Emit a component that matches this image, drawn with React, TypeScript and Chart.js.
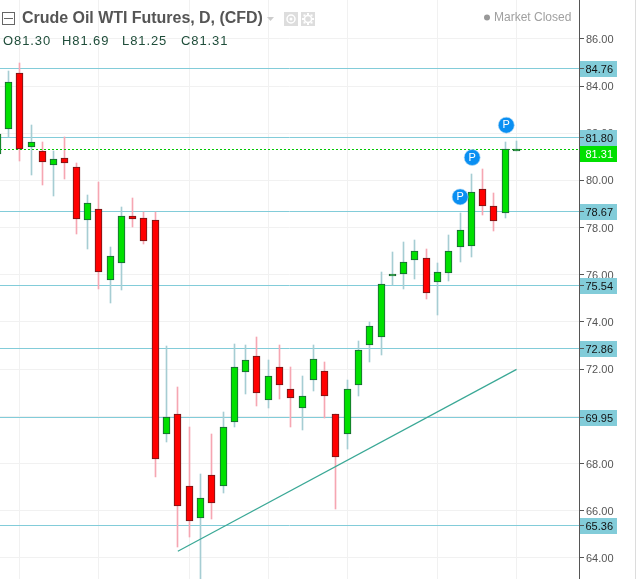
import React, { useEffect, useRef } from "react";
import { Chart, registerables } from "chart.js";

Chart.register(...registerables);

const opens = [81.13,82.16,84.53,81.42,81.23,80.66,80.93,80.55,78.33,78.77,75.76,76.48,78.47,78.39,78.34,69.27,70.08,67.03,65.67,67.53,67.03,69.74,71.86,72.54,70.71,72.07,71.14,70.37,71.52,71.94,70.08,69.23,71.31,73.03,73.38,75.96,76.04,76.61,76.69,75.70,76.06,77.18,77.23,79.62,78.90,78.60,81.30];
const closes = [81.96,84.15,81.35,81.61,80.79,80.89,80.74,78.37,79.02,76.10,76.78,78.51,78.37,77.41,68.17,69.95,66.22,65.58,66.52,66.31,69.53,72.07,72.37,70.97,71.69,71.31,70.76,70.88,72.41,70.88,68.26,71.14,72.79,73.81,75.59,76.02,76.56,76.99,75.21,76.10,76.99,77.88,79.49,78.90,78.26,81.31,81.31];
const highs = [82.10,84.63,84.97,82.34,81.62,81.24,81.83,80.72,79.37,79.93,77.17,78.87,79.25,78.65,78.65,72.97,71.24,69.54,67.55,69.24,70.18,73.06,73.02,73.35,72.38,73.02,72.08,71.70,73.02,72.30,70.08,71.56,73.19,73.99,76.11,76.96,77.38,77.47,77.09,76.49,77.68,78.61,80.26,80.48,79.46,81.62,81.69];
const lows = [81.00,81.83,80.82,80.22,79.80,79.34,80.05,77.72,77.10,75.40,74.81,75.36,78.03,77.30,67.43,68.92,64.47,64.89,62.95,65.65,66.75,69.55,70.95,70.44,70.36,70.74,69.55,69.43,71.08,69.93,66.08,68.62,70.87,72.31,72.60,75.55,75.40,75.83,74.98,74.30,75.74,76.55,76.76,78.53,77.86,78.40,81.25];

const levels = [84.76, 81.8, 78.67, 75.54, 72.86, 69.95, 65.36];
const lastPrice = 81.31;
const yTicks = [64, 66, 68, 70, 72, 74, 76, 78, 80, 82, 84, 86];
const gridIndices = [2, 9, 17, 24, 31, 39, 46];
const trendStart = { x: 16, y: 64.28 };
const trendEnd = { x: 46, y: 71.99 };
const pMarkers = [
  { x: 41, y: 79.3 },
  { x: 42.07, y: 80.97 },
  { x: 45.09, y: 82.34 },
];
const ohlcLabels = ["O81.30", "H81.69", "L81.25", "C81.31"];
const titleText = "Crude Oil WTI Futures, D, (CFD)";
const statusText = "Market Closed";

const X_MIN = 0.247;
const X_MAX = 51.53;
const Y_MIN = 63.105;
const Y_MAX = 87.645;

const GREEN = "#00e000";
const RED = "#ff0000";
const GREEN_EDGE = "#1d5c3c";
const RED_EDGE = "#6a1a1a";
const GREEN_WICK = "#a6cdd3";
const RED_WICK = "#f6a6b2";
const LEVEL = "#82ccd9";

const indices = opens.map((_, i) => i);
const isUp = (i: number) => closes[i] >= opens[i];

const snapPlugin = {
  id: "snap",
  beforeDraw(chart: any) {
    chart.scales.y.getLabelItems().forEach((item: any) => {
      if (!item.shifted) {
        item.textOffset += 1;
        item.shifted = true;
      }
    });
  },
  beforeDatasetsDraw(chart: any) {
    chart.data.datasets.forEach((ds: any, di: number) => {
      const meta = chart.getDatasetMeta(di);
      if (ds.snapY) {
        meta.data.forEach((el: any) => {
          el.y = Math.floor(el.y) + 0.5;
        });
        return;
      }
      if (ds.type !== "bar") return;
      meta.data.forEach((el: any) => {
        el.x = Math.round(el.x - 0.5) + 0.5;
        const top = Math.round(Math.min(el.y, el.base));
        let bot = Math.round(Math.max(el.y, el.base));
        if (ds.minHeightPx && bot - top < ds.minHeightPx) bot = top + ds.minHeightPx;
        el.y = top;
        el.base = bot;
      });
    });
  },
};

const overlayPlugin = {
  id: "overlay",
  afterDraw(chart: any) {
    const { ctx, scales } = chart;
    const y = scales.y;
    const axisX = Math.round(chart.chartArea.right);
    ctx.save();
    ctx.textBaseline = "middle";

    // P markers
    const pIdx = chart.data.datasets.findIndex((d: any) => d.label === "P");
    chart.getDatasetMeta(pIdx).data.forEach((pt: any) => {
      ctx.fillStyle = "#ffffff";
      ctx.font = "11px 'Liberation Sans'";
      ctx.textAlign = "center";
      ctx.fillText("P", pt.x, pt.y);
    });

    // level boxes
    ctx.textAlign = "left";
    ctx.font = "11px 'Liberation Sans'";
    levels.forEach((lv) => {
      const py = Math.floor(y.getPixelForValue(lv));
      ctx.fillStyle = LEVEL;
      ctx.fillRect(axisX, py - 7, 38, 16);
      ctx.fillStyle = "#555";
      ctx.fillRect(axisX, py, 5, 1);
      ctx.fillStyle = "#111";
      ctx.fillText(lv.toFixed(2), axisX + 6.5, py + 1.5);
    });
    const lastY = Math.floor(y.getPixelForValue(lastPrice));
    ctx.fillStyle = GREEN;
    ctx.fillRect(axisX, lastY - 3, 38, 16);
    ctx.fillStyle = "#ffffff";
    ctx.fillText(lastPrice.toFixed(2), axisX + 6.5, lastY + 5.5);
    ctx.fillStyle = "#555";
    ctx.fillRect(axisX, 0, 1, 579);

    // right edge
    ctx.fillStyle = "#dcdcdc";
    ctx.fillRect(635, 0, 1, 579);

    // header: collapse box
    ctx.strokeStyle = "#666";
    ctx.lineWidth = 1;
    ctx.strokeRect(2.5, 12.5, 12, 12);
    ctx.fillStyle = "#666";
    ctx.fillRect(4, 18, 9, 1);

    // title
    ctx.fillStyle = "#555";
    ctx.font = "bold 16px 'Liberation Sans'";
    (ctx as any).letterSpacing = "-0.03px";
    ctx.fillText(titleText, 22, 18.5);

    // caret
    ctx.fillStyle = "#cccccc";
    ctx.beginPath();
    ctx.moveTo(267, 17);
    ctx.lineTo(274, 17);
    ctx.lineTo(270.5, 21);
    ctx.closePath();
    ctx.fill();

    // eye + gear buttons
    ctx.fillStyle = "#dddddd";
    ctx.fillRect(284, 12, 14, 14);
    ctx.fillRect(301, 12, 14, 14);
    ctx.strokeStyle = "#ffffff";
    ctx.lineWidth = 1.5;
    ctx.beginPath();
    ctx.arc(291, 19, 4, 0, Math.PI * 2);
    ctx.stroke();
    ctx.fillStyle = "#ffffff";
    ctx.beginPath();
    ctx.arc(291, 19, 1.5, 0, Math.PI * 2);
    ctx.fill();
    ctx.beginPath();
    ctx.arc(308, 19, 3.5, 0, Math.PI * 2);
    ctx.stroke();
    for (let a = 0; a < 8; a++) {
      const ang = (a * Math.PI) / 4;
      ctx.fillRect(308 + Math.cos(ang) * 5 - 1, 19 + Math.sin(ang) * 5 - 1, 2, 2);
    }

    // OHLC
    (ctx as any).letterSpacing = "0.9px";
    ctx.font = "13px 'Liberation Sans'";
    ctx.fillStyle = "#1f4d3a";
    const ohlcX = [3, 62, 122, 181];
    ohlcLabels.forEach((t, i) => ctx.fillText(t, ohlcX[i], 41));

    // status
    (ctx as any).letterSpacing = "0px";
    ctx.font = "12px 'Liberation Sans'";
    ctx.fillStyle = "#a0a0a0";
    ctx.textAlign = "left";
    ctx.fillText(statusText, 494, 18);
    ctx.fillStyle = "#999999";
    ctx.beginPath();
    ctx.arc(487, 17.5, 3, 0, Math.PI * 2);
    ctx.fill();
    ctx.restore();
  },
};

const noPadding = (s: any) => {
  s.paddingTop = 0;
  s.paddingBottom = 0;
  s.paddingLeft = 0;
  s.paddingRight = 0;
};

export default function App() {
  const ref = useRef<HTMLCanvasElement | null>(null);
  useEffect(() => {
    const levelSets = levels.map((lv) => ({
      type: "line" as const,
      label: "level " + lv,
      data: [{ x: X_MIN, y: lv }, { x: X_MAX, y: lv }],
      borderColor: LEVEL,
      borderWidth: 1,
      pointRadius: 0,
      snapY: true,
      order: 10,
    }));
    const chart = new Chart(ref.current as HTMLCanvasElement, {
      type: "bar",
      data: {
        datasets: [
          ...levelSets,
          {
            type: "bar",
            label: "wicks",
            data: indices.map((i) => ({ x: i, y: [lows[i], highs[i]] })),
            backgroundColor: indices.map((i) => (isUp(i) ? GREEN_WICK : RED_WICK)),
            borderWidth: 0,
            barThickness: 1,
            grouped: false,
            order: 8,
          },
          {
            type: "line",
            label: "last",
            data: [{ x: X_MIN, y: lastPrice }, { x: X_MAX, y: lastPrice }],
            borderColor: "#00c800",
            borderWidth: 1,
            borderDash: [2, 2],
            pointRadius: 0,
            snapY: true,
            order: 6,
          },
          {
            type: "bar",
            label: "bodies",
            data: indices.map((i) => ({ x: i, y: [opens[i], closes[i]] })),
            backgroundColor: indices.map((i) => (isUp(i) ? GREEN : RED)),
            borderColor: indices.map((i) => (isUp(i) ? GREEN_EDGE : RED_EDGE)),
            borderWidth: 1,
            borderSkipped: false,
            barThickness: 7,
            grouped: false,
            minHeightPx: 2,
            order: 5,
          },
          {
            type: "line",
            label: "trend",
            data: [trendStart, trendEnd],
            borderColor: "#3aa896",
            borderWidth: 1.2,
            pointRadius: 0,
            order: 3,
          },
          {
            type: "line",
            label: "P",
            data: pMarkers,
            showLine: false,
            pointRadius: 8,
            pointBackgroundColor: "#0a8ff2",
            pointBorderColor: "#b5dcf5",
            pointBorderWidth: 0.6,
            order: 1,
          },
        ] as any,
      },
      options: {
        animation: false,
        responsive: false,
        devicePixelRatio: 1,
        layout: { padding: 0, autoPadding: false },
        plugins: { legend: { display: false }, tooltip: { enabled: false }, title: { display: false } },
        scales: {
          x: {
            type: "linear",
            min: X_MIN,
            max: X_MAX,
            offset: false,
            border: { display: false },
            grid: { color: "#f1f1f1", drawTicks: false, offset: false },
            ticks: { display: false },
            afterBuildTicks: (s: any) => {
              s.ticks = gridIndices.map((value) => ({ value }));
            },
            afterFit: (s: any) => {
              s.height = 0;
              noPadding(s);
            },
          },
          y: {
            type: "linear",
            position: "right",
            min: Y_MIN,
            max: Y_MAX,
            border: { display: true, color: "#555", width: 1 },
            grid: { color: "#f1f1f1", tickColor: "#555", tickLength: 5 },
            ticks: {
              color: "#555",
              font: { family: "'Liberation Sans'", size: 11 },
              padding: 2,
              includeBounds: false,
              autoSkip: false,
              maxRotation: 0,
              callback: (v: any) => Number(v).toFixed(2),
            },
            afterBuildTicks: (s: any) => {
              s.ticks = yTicks.map((value) => ({ value }));
            },
            afterFit: (s: any) => {
              s.width = 57;
              noPadding(s);
            },
          },
        },
      } as any,
      plugins: [snapPlugin, overlayPlugin],
    });
    return () => chart.destroy();
  }, []);
  return (
    <div style={{ position: "fixed", left: 0, top: 0, width: 636, height: 579, background: "#fff" }}>
      <canvas ref={ref} width={636} height={579} style={{ display: "block", width: 636, height: 579 }} />
    </div>
  );
}
